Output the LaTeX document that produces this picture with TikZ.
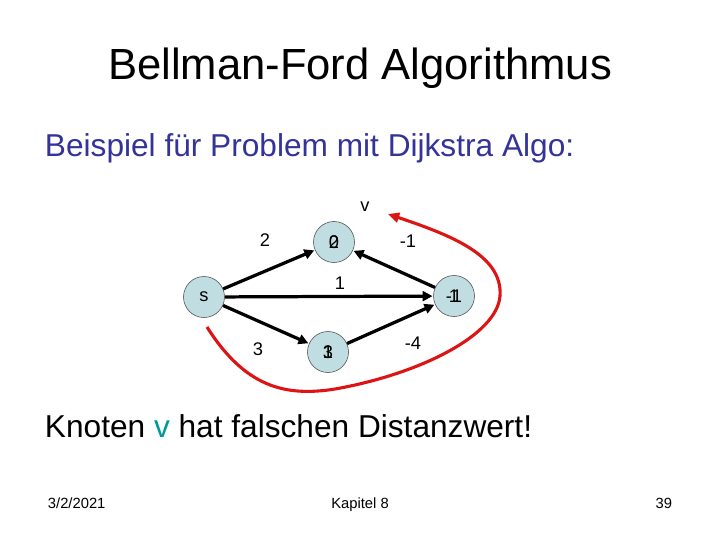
\documentclass[tikz,border=0pt]{standalone}
\usepackage{fontspec}
\setmainfont{Liberation Sans}
\usepackage{xcolor}
\usetikzlibrary{arrows.meta,positioning}

\definecolor{knotfill}{RGB}{192,222,226}
\definecolor{subblue}{RGB}{51,51,153}
\definecolor{vteal}{RGB}{0,153,153}
\definecolor{curvered}{RGB}{220,20,20}

\tikzset{
  knot/.style={circle, draw=black!70, fill=knotfill, minimum size=41*0.025cm, inner sep=0pt, font=\fontsize{13}{13}\selectfont},
  kante/.style={line width=2.3pt, -{Triangle[length=7pt,width=7pt]}, shorten >=0.5pt},
  gewicht/.style={font=\fontsize{13}{13}\selectfont},
  fuss/.style={anchor=base, font=\fontsize{10.5}{10.5}\selectfont},
}

\begin{document}
\begin{tikzpicture}[x=0.025cm, y=-0.025cm]
    \useasboundingbox (0,0) rectangle (720,540);

    % Titel und Text
    \node[font=\fontsize{31}{31}\selectfont] (titel) at (360,68) {Bellman-Ford Algorithmus};
    \node[anchor=west, text=subblue, font=\fontsize{22.5}{22.5}\selectfont] (bsp) at (40,148) {Beispiel für Problem mit Dijkstra Algo:};
    \node[anchor=west, font=\fontsize{22.5}{22.5}\selectfont] (fazit) at (40,426) {Knoten \textcolor{vteal}{v} hat falschen Distanzwert!};

    % Knoten
    \node[knot] (s) at (204,297) {s};
    \node[knot] (v) at (334,242) {};
    \node[gewicht] (v2) at (v) {2};
    \node[gewicht] (v0) at (v) {0};
    \node[knot] (r) at (454,296) {};
    \node[gewicht] (r1) at (r) {1};
    \node[gewicht] (rm) at (r) {-1};
    \node[knot] (u) at (328,352) {};
    \node[gewicht] (u3) at (u) {3};
    \node[gewicht] (u1) at (u) {1};

    % Kanten
    \draw[kante] (s) -- (v);
    \draw[kante] (s) -- (r);
    \draw[kante] (s) -- (u);
    \draw[kante] (u) -- (r);
    \draw[kante] (r) -- (v);

    % Gewichte
    \node[gewicht] (lv) at (365,207) {v};
    \node[gewicht] (g2) at (265,240) {2};
    \node[gewicht] (gm1) at (408,241) {-1};
    \node[gewicht] (g1) at (340,283) {1};
    \node[gewicht] (g3) at (258,349) {3};
    \node[gewicht] (gm4) at (413,343) {-4};

    % roter Bogen
    \coordinate (bstart) at (207,327);
    \coordinate (bend) at (388,214);
    \draw[curvered, line width=2.2pt, -{Triangle[length=8pt,width=7pt]}]
        (bstart) .. controls (245,387) and (285,397) .. (335,389)
        .. controls (420,374) and (497,335) .. (500,296)
        .. controls (503,255) and (450,235) .. (bend);

    % Fusszeile
    \node[fuss, anchor=base west] (datum) at (43,508) {3/2/2021};
    \node[fuss] (kap) at (360,508) {Kapitel 8};
    \node[fuss, anchor=base east] (seite) at (677,508) {39};
\end{tikzpicture}
\end{document}
